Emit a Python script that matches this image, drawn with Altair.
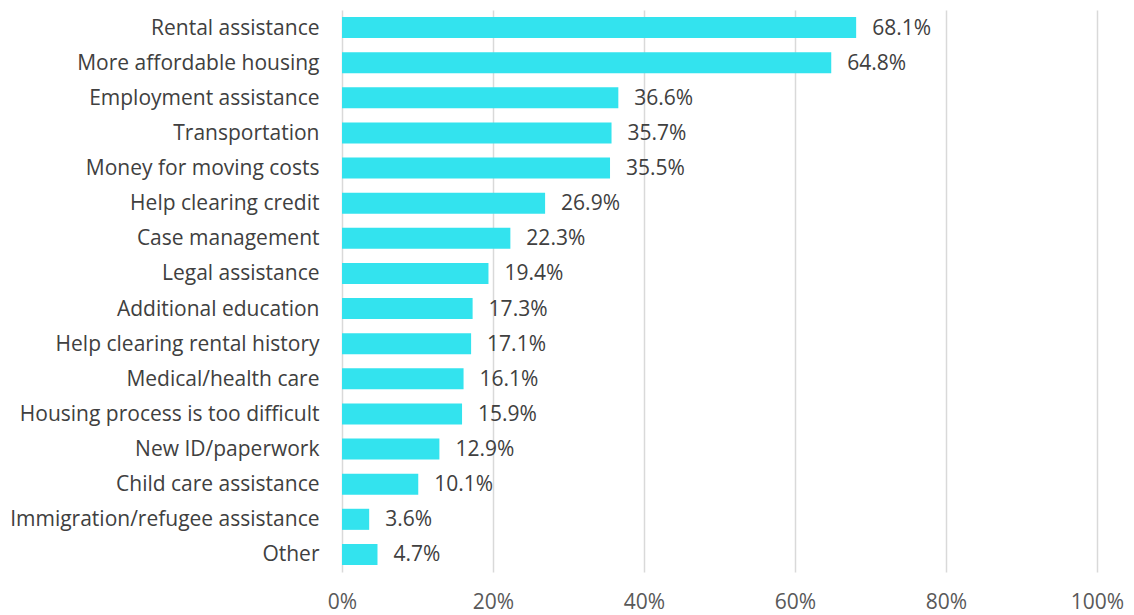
import altair as alt
import pandas as pd

# Survey responses: share of respondents naming each need
categories = [
    "Rental assistance",
    "More affordable housing",
    "Employment assistance",
    "Transportation",
    "Money for moving costs",
    "Help clearing credit",
    "Case management",
    "Legal assistance",
    "Additional education",
    "Help clearing rental history",
    "Medical/health care",
    "Housing process is too difficult",
    "New ID/paperwork",
    "Child care assistance",
    "Immigration/refugee assistance",
    "Other",
]
values = [68.1, 64.8, 36.6, 35.7, 35.5, 26.9, 22.3, 19.4, 17.3, 17.1, 16.1, 15.9, 12.9, 10.1, 3.6, 4.7]
x_ticks = [0, 20, 40, 60, 80, 100]

df = pd.DataFrame({"category": categories, "value": [v / 100 for v in values]})
df["label"] = [f"{v:.1f}%" for v in values]

FONT = "Open Sans"
SIZE = 21

y_enc = alt.Y(
    "category:N",
    sort=categories,
    title=None,
    scale=alt.Scale(paddingInner=0.4, paddingOuter=0.2),
    axis=alt.Axis(
        domain=False,
        ticks=False,
        grid=False,
        labelPadding=23,
        labelOffset=1,
        labelFontSize=SIZE,
        labelFont=FONT,
        labelColor="#404040",
        labelLimit=400,
    ),
)

x_enc = alt.X(
    "value:Q",
    title=None,
    scale=alt.Scale(domain=[0, 1], nice=False),
    axis=alt.Axis(
        values=[t / 100 for t in x_ticks],
        format=".0%",
        domain=False,
        ticks=False,
        grid=True,
        gridColor="#d9d9d9",
        gridWidth=1.5,
        labelPadding=19,
        labelFlush=False,
        labelFontSize=SIZE,
        labelFont=FONT,
        labelColor="#595959",
    ),
)

bars = alt.Chart(df).mark_bar(color="#33E3EE").encode(x=x_enc, y=y_enc)

text = alt.Chart(df).mark_text(
    align="left", baseline="middle", dx=16, dy=1, fontSize=SIZE, font=FONT, color="#404040"
).encode(x="value:Q", y=alt.Y("category:N", sort=categories), text="label:N")

chart = (
    alt.layer(bars, text)
    .properties(
        width=755,
        height=562,
        autosize=alt.AutoSizeParams(type="none"),
        padding={"left": 342, "top": 10, "right": 37, "bottom": 43},
        background="white",
    )
    .configure_view(stroke=None)
)

chart.save("out.html", embed_options={"renderer": "svg", "actions": False})
